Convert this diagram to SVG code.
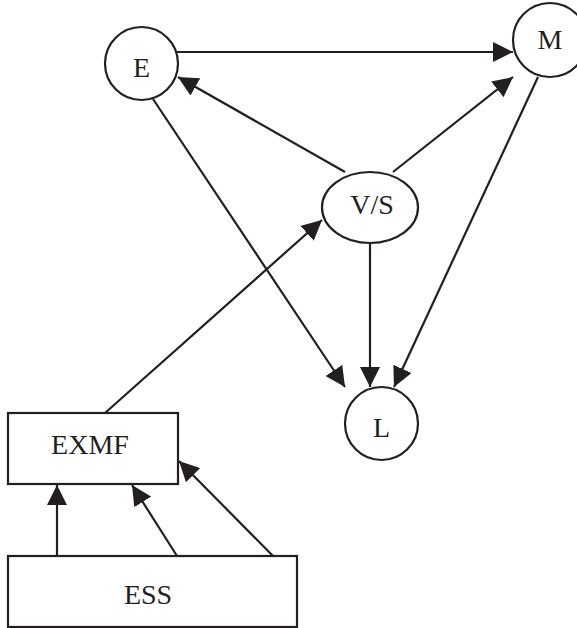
<svg xmlns="http://www.w3.org/2000/svg" width="577" height="628" viewBox="0 0 577 628">
<defs>
<marker id="ah" viewBox="0 0 20 20" refX="20" refY="10" markerWidth="20" markerHeight="20" markerUnits="userSpaceOnUse" orient="auto">
<path d="M0,0 L20,10 L0,20 z" fill="#231f20"/>
</marker>
<style>
.n{fill:#fff;stroke:#231f20;stroke-width:2.2}
.t{font-family:"Liberation Serif",serif;font-size:28px;fill:#231f20;text-anchor:middle}
.c{stroke:#231f20;stroke-width:2.2;fill:none;marker-end:url(#ah)}
</style>
</defs>
<rect width="577" height="628" fill="#fff"/>
<g id="connectors">
<line class="c" x1="176" y1="52" x2="513" y2="52"/>
<line class="c" x1="345" y1="172" x2="178" y2="77"/>
<line class="c" x1="393" y1="172" x2="513" y2="77"/>
<line class="c" x1="370" y1="243" x2="370" y2="387"/>
<line class="c" x1="153" y1="99" x2="345" y2="387"/>
<line class="c" x1="538" y1="77" x2="394" y2="387"/>
<line class="c" x1="105" y1="413" x2="322" y2="220"/>
<line class="c" x1="57" y1="556" x2="57" y2="485"/>
<line class="c" x1="177" y1="556" x2="132" y2="485"/>
<line class="c" x1="273" y1="556" x2="179" y2="461"/>
</g>
<g id="E"><circle class="n" cx="141.5" cy="63.5" r="36.5"/><text class="t" x="141.5" y="77">E</text></g>
<g id="M"><circle class="n" cx="550" cy="40" r="37"/><text class="t" x="550" y="49">M</text></g>
<g id="VS"><ellipse class="n" cx="370" cy="207.5" rx="48" ry="35.5"/><text class="t" x="372" y="214">V/S</text></g>
<g id="L"><circle class="n" cx="381.5" cy="423.5" r="36.5"/><text class="t" x="381.5" y="437">L</text></g>
<g id="EXMF"><rect class="n" x="8" y="413" width="170" height="71"/><text class="t" x="90" y="454">EXMF</text></g>
<g id="ESS"><rect class="n" x="8" y="556" width="289" height="71"/><text class="t" x="148" y="604">ESS</text></g>
</svg>
